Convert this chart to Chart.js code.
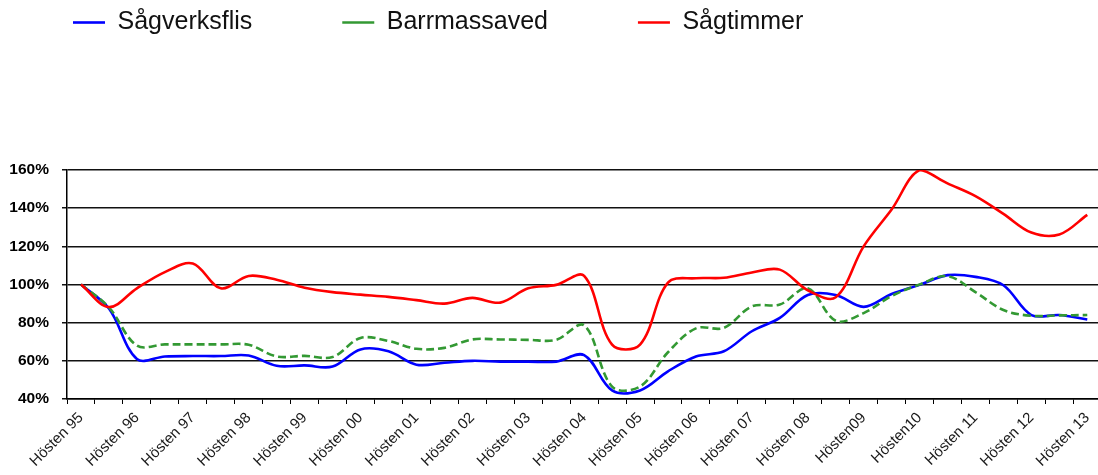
<!DOCTYPE html>
<html>
<head>
<meta charset="utf-8">
<script src="https://cdn.jsdelivr.net/npm/chart.js@4.4.1/dist/chart.umd.min.js"></script>
<style>
  html, body { margin: 0; padding: 0; background: #fff; overflow: hidden; }
  #wrap { position: absolute; left: 0; top: 0; width: 1105px; height: 475px; }
</style>
</head>
<body>
<div id="wrap"><canvas id="c"></canvas></div>
<script>
// Half-year periods (autumn / spring)
const categories = [
  'Hösten 95','Våren 96','Hösten 96','Våren 97','Hösten 97','Våren 98','Hösten 98','Våren 99','Hösten 99',
  'Våren 00','Hösten 00','Våren 01','Hösten 01','Våren 02','Hösten 02','Våren 03','Hösten 03','Våren 04',
  'Hösten 04','Våren 05','Hösten 05','Våren 06','Hösten 06','Våren 07','Hösten 07','Våren 08','Hösten 08',
  'Våren 09','Hösten 09','Våren 10','Hösten 10','Våren 11','Hösten 11','Våren 12','Hösten 12','Våren 13','Hösten 13'
];
// Labels shown on the axis (one per autumn)
const tickLabels = [
  'Hösten 95','Hösten 96','Hösten 97','Hösten 98','Hösten 99','Hösten 00','Hösten 01','Hösten 02',
  'Hösten 03','Hösten 04','Hösten 05','Hösten 06','Hösten 07','Hösten 08','Hösten09','Hösten10',
  'Hösten 11','Hösten 12','Hösten 13'
];
// Index, Hösten 95 = 100 %
const sagverksflis = [100, 87.4, 61, 62.3, 62.5, 62.5, 62.8, 57.4, 57.6, 57, 66, 65, 58, 59, 60, 59.6, 59.6, 59.6,
  63, 44.5, 44.5, 54.5, 62.3, 65, 75.5, 82.5, 94.5, 94.5, 88.3, 95, 99.8, 104.9, 104, 99.6, 84, 84, 81.7];
const barrmassaved = [100, 88, 68, 68.6, 68.6, 68.6, 68.4, 62.3, 62.6, 62, 72, 70.4, 66.3, 66.8, 71.2, 71.2, 71, 71,
  78.6, 46.5, 46.5, 64.5, 77, 77.3, 88.5, 89.5, 98, 81, 85, 94, 100, 104.4, 96, 86.6, 83.6, 83.8, 84];
const sagtimmer = [100, 88.2, 98, 106.5, 111, 98, 104.5, 102.5, 98.3, 96, 94.7, 93.5, 91.8, 90, 93, 90.5, 98, 99.8,
  104.5, 68.5, 68.5, 101, 103.3, 103.5, 106.3, 107.8, 97, 93.3, 120, 139.3, 160, 153, 146.3, 137, 127.2, 126.2, 136.5];
const yMin = 40, yMax = 160, yStep = 20;

const FONT = "'Liberation Sans', Arial, sans-serif";

const legendPlacement = {
  id: 'legendPlacement',
  beforeInit(chart) {
    const legend = chart.legend;
    const fit = legend.fit;
    legend.fit = function () { fit.call(this); this.height = 170; };
    const draw = legend.draw;
    legend.draw = function () {
      const ctx = this.ctx;
      ctx.save();
      ctx.translate(-17, -80);
      draw.call(this);
      ctx.restore();
    };
  }
};

new Chart(document.getElementById('c'), {
  type: 'line',
  data: {
    labels: categories,
    datasets: [
      { label: 'Sågverksflis', data: sagverksflis, borderColor: '#0000FF', backgroundColor: '#0000FF',
        borderWidth: 2.6, pointRadius: 0, tension: 0.35, fill: false, order: 3 },
      { label: 'Barrmassaved', data: barrmassaved, borderColor: '#339933', backgroundColor: '#339933',
        borderWidth: 2.6, borderDash: [8, 4], pointRadius: 0, tension: 0.35, fill: false, order: 2 },
      { label: 'Sågtimmer', data: sagtimmer, borderColor: '#FF0000', backgroundColor: '#FF0000',
        borderWidth: 2.6, pointRadius: 0, tension: 0.35, fill: false, order: 1 }
    ]
  },
  options: {
    responsive: true,
    maintainAspectRatio: false,
    animation: false,
    layout: { padding: 0 },
    plugins: {
      tooltip: { enabled: false },
      legend: {
        position: 'top',
        align: 'start',
        labels: {
          font: { family: FONT, size: 25 },
          color: '#111',
          usePointStyle: true,
          pointStyle: 'line',
          pointStyleWidth: 32,
          padding: 90,
          sort: (a, b) => a.datasetIndex - b.datasetIndex
        }
      }
    },
    scales: {
      x: {
        type: 'category',
        offset: true,
        grid: { offset: true, drawOnChartArea: false, drawTicks: true, tickLength: 5, color: '#000', lineWidth: 1 },
        border: { display: true, color: '#000', width: 1.5 },
        ticks: {
          autoSkip: false, maxRotation: 45, minRotation: 45, padding: 5,
          color: '#1a1a1a', font: { family: FONT, size: 15 },
          callback: (v, i) => (i % 2 === 0 ? tickLabels[i / 2] : '')
        },
        afterFit: (s) => { s.height = 76; }
      },
      y: {
        min: yMin, max: yMax,
        ticks: {
          stepSize: yStep, padding: 13, color: '#000',
          font: { family: FONT, size: 15.5, weight: 'bold' },
          callback: (v) => v + '%'
        },
        grid: { color: '#111', lineWidth: 1.5, drawTicks: true, tickLength: 5 },
        border: { display: true, color: '#000', width: 1.5 },
        afterFit: (s) => { s.width = 67; }
      }
    }
  },
  plugins: [legendPlacement]
});
</script>
</body>
</html>
